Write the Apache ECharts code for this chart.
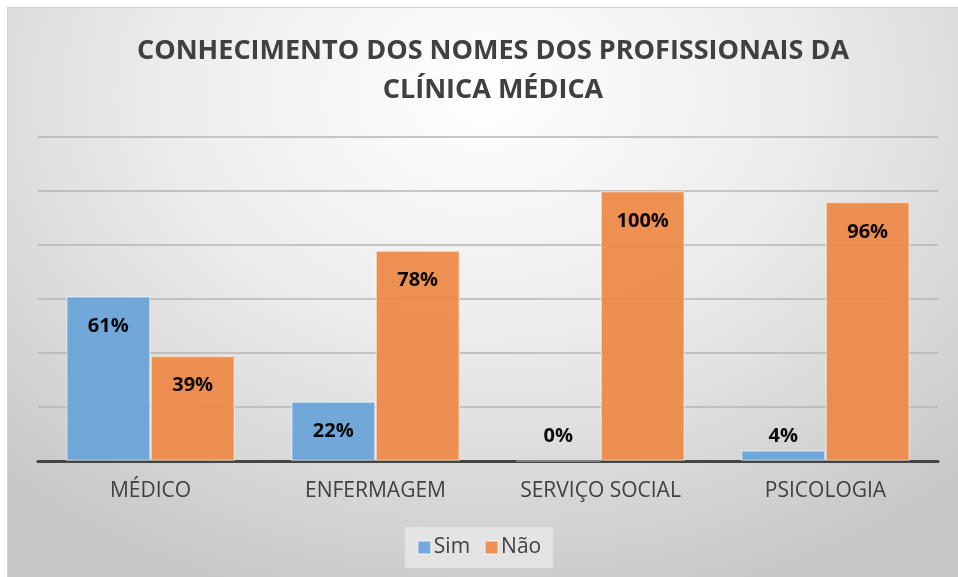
<!DOCTYPE html>
<html>
<head>
<meta charset="utf-8">
<script src="https://cdn.jsdelivr.net/npm/echarts@6/dist/echarts.min.js"></script>
<style>
  html, body { margin: 0; padding: 0; background: #fff; }
  #frame {
    position: absolute; left: 7px; top: 7px; width: 951px; height: 570px;
    border-left: 1px solid #d0d0d0; border-top: 1px solid #d0d0d0; box-sizing: border-box;
    background: radial-gradient(ellipse 75% 95% at 50% 15%, #ffffff 0%, #ececec 45%, #c6c6c6 100%);
  }
  #chart { position: absolute; left: 0; top: 0; width: 958px; height: 577px; }
</style>
</head>
<body>
<div id="frame"></div>
<div id="chart"></div>
<script>
(function() {
  var categories = ['MÉDICO', 'ENFERMAGEM', 'SERVIÇO SOCIAL', 'PSICOLOGIA'];
  var simValues = [61, 22, 0, 4];
  var naoValues = [39, 78, 100, 96];
  var seriesNames = ['Sim', 'Não'];

  var blue = '#6aa4d8';
  var orange = '#ec8a49';
  var ink = '#404040';

  function labelFor(v) {
    // small bars get their label above the bar, like the original
    if (v < 10) {
      return { value: v, label: { position: 'top', distance: v === 0 ? 14 : 4 } };
    }
    return v;
  }

  var chart = echarts.init(document.getElementById('chart'), null, { renderer: 'canvas' });
  var fontFamily = '"Open Sans", "Noto Sans", sans-serif';

  chart.setOption({
    animation: false,
    backgroundColor: 'transparent',
    title: {
      text: 'CONHECIMENTO DOS NOMES DOS PROFISSIONAIS DA\nCLÍNICA MÉDICA',
      left: 488,
      textAlign: 'center',
      top: 27,
      textStyle: { color: ink, fontSize: 27, fontWeight: 'bold', fontFamily: fontFamily, lineHeight: 39 }
    },
    legend: {
      data: seriesNames,
      bottom: 9,
      left: 'center',
      itemWidth: 13,
      itemHeight: 13,
      itemGap: 14,
      padding: [10, 12],
      backgroundColor: 'rgba(235,235,235,0.7)',
      icon: 'rect',
      textStyle: { color: ink, fontSize: 21, fontFamily: fontFamily, padding: [0, 0, 0, -2] }
    },
    grid: { left: 38, right: 20, top: 137, bottom: 116 },
    xAxis: {
      type: 'category',
      data: categories,
      axisLine: { lineStyle: { color: '#444', width: 3 } },
      axisTick: { show: false },
      axisLabel: { color: ink, fontSize: 21, fontFamily: fontFamily, margin: 20 }
    },
    yAxis: {
      type: 'value',
      min: 0,
      max: 120,
      interval: 20,
      axisLabel: { show: false },
      axisLine: { show: false },
      axisTick: { show: false },
      splitLine: { lineStyle: { color: '#b4b4b4', width: 1.5 } }
    },
    series: [
      {
        name: 'Sim',
        type: 'bar',
        barGap: '0%',
        barCategoryGap: '25%',
        data: simValues.map(labelFor),
        itemStyle: { color: blue, opacity: 0.95, borderColor: 'rgba(255,255,255,0.45)', borderWidth: 1.5 },
        label: {
          show: true, position: 'insideTop', distance: 20, color: '#000',
          fontSize: 20, fontWeight: 'bold', fontFamily: fontFamily,
          formatter: '{c}%'
        }
      },
      {
        name: 'Não',
        type: 'bar',
        data: naoValues.map(labelFor),
        itemStyle: { color: orange, opacity: 0.95, borderColor: 'rgba(255,255,255,0.45)', borderWidth: 1.5 },
        label: {
          show: true, position: 'insideTop', distance: 20, color: '#000',
          fontSize: 20, fontWeight: 'bold', fontFamily: fontFamily,
          formatter: '{c}%'
        }
      }
    ]
  });
  window.addEventListener('resize', function() { chart.resize(); });
})();
</script>
</body>
</html>
